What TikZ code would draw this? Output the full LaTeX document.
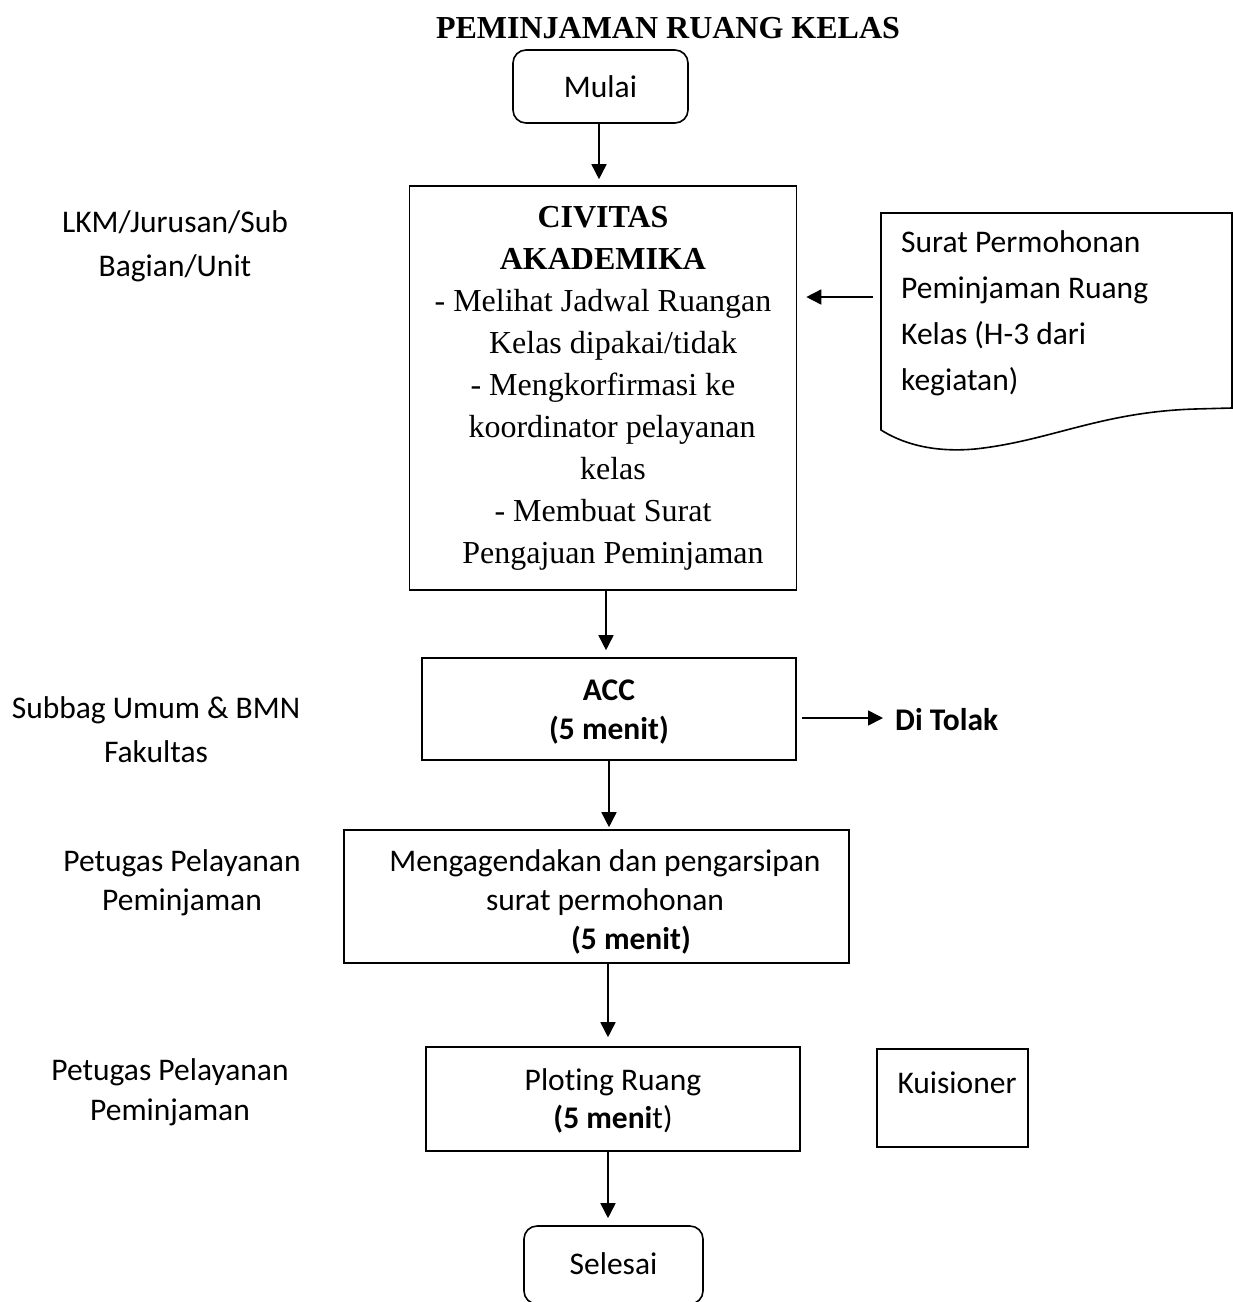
\documentclass[tikz,border=0pt]{standalone}
\usepackage{fontspec}
\setmainfont{Liberation Serif}
\newfontfamily\calfont[Ligatures=NoCommon]{Carlito}
\usetikzlibrary{arrows.meta}
\begin{document}
\begin{tikzpicture}[x=1pt,y=-1pt,
  box/.style={draw, line width=1.6pt, inner sep=0pt, align=center},
  rbox/.style={box, rounded corners=13pt},
  cal/.style={font=\calfont\fontsize{31.5}{#1}\selectfont},
  cal/.default=44,
  ser/.style={font=\fontsize{32}{42}\selectfont},
  lbl/.style={cal=#1, align=center, inner sep=0pt},
  lbl/.default=44,
  arr/.style={draw, line width=1.6pt, -{Triangle[length=15pt,width=15pt]}}]
\useasboundingbox (0,0) rectangle (1233,1302);
\clip (0,0) rectangle (1233,1302);

% title
\node[font=\bfseries\fontsize{32}{38}\selectfont, inner sep=0pt] (title) at (668,28) {PEMINJAMAN RUANG KELAS};

% main flow
\node[rbox, cal, minimum width=175pt, minimum height=73pt] (mulai) at (600.5,86.5) {Mulai};
\node[box, ser, minimum width=387pt, minimum height=404pt] (civ) at (603,388)
 {\textbf{CIVITAS}\\
  \textbf{AKADEMIKA}\\
  - Melihat Jadwal Ruangan\\
  \hspace*{20pt}Kelas dipakai/tidak\\
  - Mengkorfirmasi ke\\
  \hspace*{18pt}koordinator pelayanan\\
  \hspace*{20pt}kelas\\
  - Membuat Surat\\
  \hspace*{20pt}Pengajuan Peminjaman};
\node[box, cal=39, minimum width=374pt, minimum height=102pt] (acc) at (609,709)
 {\rule{0pt}{26pt}\textbf{ACC}\\\textbf{(5 menit)}};
\node[box, cal=39, minimum width=505pt, minimum height=133pt] (agenda) at (596.5,896.5)
 {\rule{0pt}{32pt}\hspace*{17pt}Mengagendakan dan pengarsipan\\
  \hspace*{17pt}surat permohonan\\
  \hspace*{69pt}\textbf{(5 menit)}};
\node[box, cal=38, minimum width=374pt, minimum height=104pt] (plot) at (613,1099)
 {\rule{0pt}{26pt}Ploting Ruang\\\textbf{(5 meni}t)};
\node[box, minimum width=151pt, minimum height=98pt,
      label={[cal, xshift=4.5pt, yshift=15pt]center:Kuisioner}] (kuis) at (952.5,1098) {};
\node[rbox, cal, minimum width=179pt, minimum height=78pt] (selesai) at (613.5,1265) {\raisebox{3pt}{Selesai}};

% document shape
\node[inner sep=0pt, minimum width=351pt, minimum height=217pt] (doc) at (1056.5,321.5) {};
\draw[line width=1.6pt, line join=miter]
  (881,430) -- (881,213) -- (1232,213) -- (1232,408) -- (1195,409)
  .. controls (1100,412) and (1050,441) .. (975,449)
  .. controls (930,453) and (900,442) .. (881,430) -- cycle;
\node[lbl=46, align=left, anchor=west] (doctxt) at (901,313)
 {Surat Permohonan\\Peminjaman Ruang\\Kelas (H-3 dari\\kegiatan)};

% Di Tolak
\node[font=\calfont\bfseries\fontsize{31.5}{44}\selectfont, inner sep=0pt, anchor=west] (tolak) at (895,720) {Di Tolak};

% left labels
\node[lbl] (l1) at (175,246) {LKM/Jurusan/Sub\\Bagian/Unit};
\node[lbl] (l2) at (156,730) {Subbag Umum \& BMN\\Fakultas};
\node[lbl=39] (l3) at (182,883) {Petugas Pelayanan\\Peminjaman};
\node[lbl=40] (l4) at (170,1092) {Petugas Pelayanan\\Peminjaman};

% connectors
\draw[arr, shorten >=6pt] ([xshift=-1.5pt]mulai.south) -- ([xshift=-1.5pt]mulai.south |- civ.north);
\draw[arr, shorten >=7pt] ([xshift=3pt]civ.south) -- ([xshift=3pt]civ.south |- acc.north);
\draw[arr, shorten >=2pt] (acc.south) -- (acc.south |- agenda.north);
\draw[arr, shorten >=9pt] ([xshift=11.5pt]agenda.south) -- ([xshift=11.5pt]agenda.south |- plot.north);
\draw[arr, shorten >=7pt] ([xshift=-5pt]plot.south) -- ([xshift=-5pt]plot.south |- selesai.north);
\coordinate (docin) at (873,297);
\draw[arr, shorten >=9pt] (docin) -- (civ.east |- docin);
\coordinate (rej) at (802,718);
\draw[arr, shorten >=12pt] (rej) -- (rej -| tolak.west);
\end{tikzpicture}
\end{document}
